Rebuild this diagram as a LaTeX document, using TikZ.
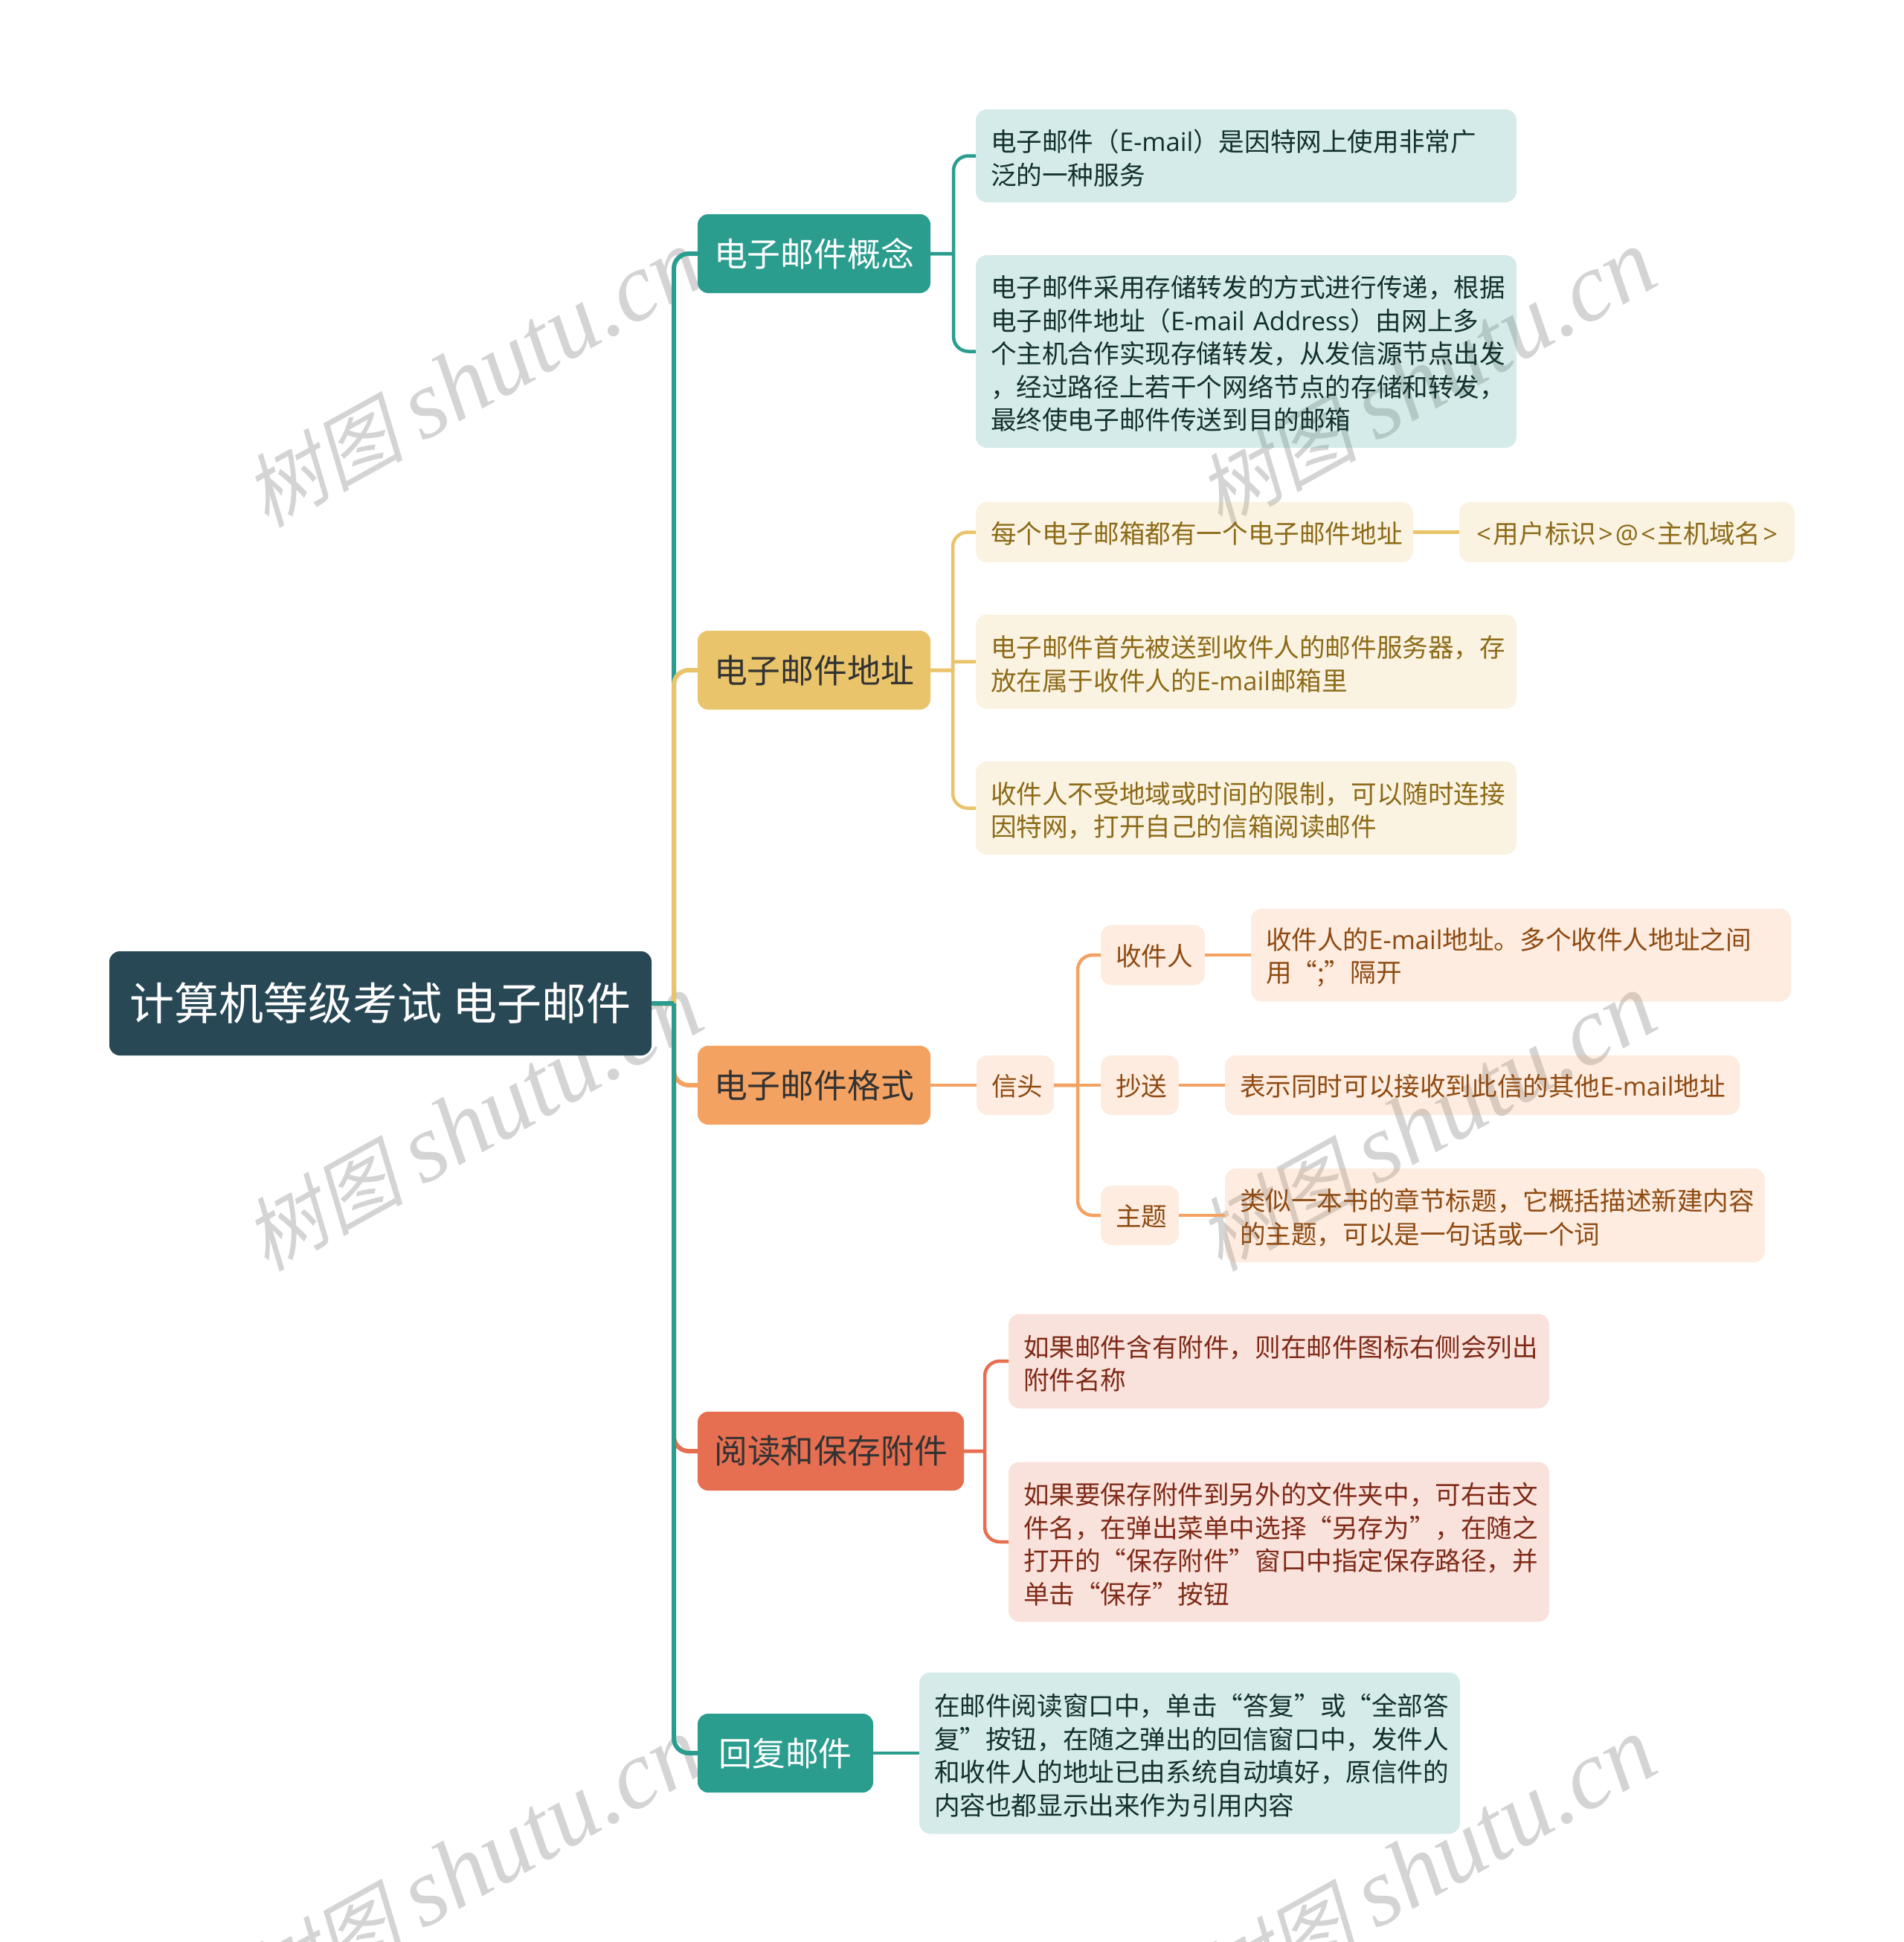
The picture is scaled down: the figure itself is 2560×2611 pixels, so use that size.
\documentclass[tikz,border=0pt]{standalone}
\usepackage{fontspec}
\setmainfont{Noto Sans CJK SC}
\newfontfamily\lafont{Open Sans}
\newfontfamily\markcjk[FakeSlant=0.22]{Noto Sans CJK SC}
\newfontfamily\marklatin{Liberation Serif}[ItalicFont=* Italic]
\newcommand{\la}[1]{\mbox{\lafont #1}}
\newcommand{\leafend}{\par\vspace{-6.5pt}}
\usepackage{tikz}
\usetikzlibrary{positioning}
\definecolor{rootblue}{HTML}{294856}
\definecolor{mailteal}{HTML}{2A9D8F}
\definecolor{mailyellow}{HTML}{E9C46A}
\definecolor{mailorange}{HTML}{F4A261}
\definecolor{mailred}{HTML}{E76F51}
\definecolor{inkteal}{HTML}{12302C}
\definecolor{inkyellow}{HTML}{8C6A18}
\definecolor{inkorange}{HTML}{8E4A12}
\definecolor{inkred}{HTML}{7E2A17}

\begin{document}
\begin{tikzpicture}[x=1pt,y=1pt,semithick]
    \tikzstyle{rootbox}=[fill=rootblue,text=white,rounded corners=14pt,outer sep=0pt,inner sep=0pt,minimum width=729pt,minimum height=140pt,font=\fontsize{60}{70}\selectfont]
    \tikzstyle{topic}=[rounded corners=14pt,outer sep=0pt,inner sep=0pt,minimum width=313pt,minimum height=106pt,font=\fontsize{44.8}{54}\selectfont]
    \tikzstyle{leaf}=[rounded corners=15pt,outer sep=0pt,inner xsep=20pt,inner ysep=0pt,text width=687pt,align=left,fill opacity=0.2,text opacity=1,font=\fontsize{34.6}{44.5}\selectfont,execute at end node=\leafend]
    \tikzstyle{wmark}=[text=black!17,rotate=29,inner sep=0pt]
    \tikzstyle{tealline}=[draw=mailteal]
    \tikzstyle{yellowline}=[draw=mailyellow]
    \tikzstyle{orangeline}=[draw=mailorange]
    \tikzstyle{redline}=[draw=mailred]
    \tikzstyle{trunk}=[line width=6pt]
    \tikzstyle{twig}=[line width=4.5pt]
    \tikzset{elbow/.style={rounded corners=20pt,to path={(\tikztostart) -- ++(#1,0) ++(0,0) |- (\tikztotarget)}}}
    \useasboundingbox (0,0) rectangle (2560,-2611);

    \foreach \mx in {636,1918}
        \foreach \my in {-510,-1510,-2510}
            \node[wmark] (w\mx\my) at (\mx,\my) {\fontsize{108}{120}\markcjk\selectfont 树图 \fontsize{131}{140}\marklatin\itshape\selectfont shutu.cn};

    \node[rootbox] (root) at (511.5,-1349) {计算机等级考试 电子邮件};

    \node[topic,fill=mailteal,text=white] (concept) [right=62pt of root,yshift=1008pt] {电子邮件概念};
    \node[topic,fill=mailyellow,text=black!80] (address) [right=62pt of root,yshift=448pt] {电子邮件地址};
    \node[topic,fill=mailorange,text=black!80] (format) [right=62pt of root,yshift=-110pt] {电子邮件格式};
    \node[topic,fill=mailred,text=black!80,minimum width=358pt] (attach) [right=62pt of root,yshift=-602pt] {阅读和保存附件};
    \node[topic,fill=mailteal,text=white,minimum width=236pt] (reply) [right=62pt of root,yshift=-1008pt] {回复邮件\hspace{5pt}};

    \node[leaf,fill=mailteal,text=inkteal,minimum height=125pt] (concepta) [right=61pt of concept,yshift=131.5pt] {电子邮件（\la{E-mail}）是因特网上使用非常广\\泛的一种服务};
    \node[leaf,fill=mailteal,text=inkteal,minimum height=259pt] (conceptb) [right=61pt of concept,yshift=-131.5pt] {电子邮件采用存储转发的方式进行传递，根据\\电子邮件地址（\la{E-mail Address}）由网上多\\个主机合作实现存储转发，从发信源节点出发\\，经过路径上若干个网络节点的存储和转发，\\最终使电子邮件传送到目的邮箱};

    \node[leaf,fill=mailyellow,text=inkyellow,text width=548pt,minimum height=81pt] (addressa) [right=61pt of address,yshift=185.5pt] {每个电子邮箱都有一个电子邮件地址};
    \node[leaf,fill=mailyellow,text=inkyellow,text width=411pt,minimum height=81pt] (userhost) [right=62pt of addressa] {\mbox{\hspace*{3pt}\la{<}\hspace{3pt}用户标识\hspace{3pt}\la{>}\hspace{3pt}\la{@}\hspace{3pt}\la{<}\hspace{3pt}主机域名\hspace{3pt}\la{>}}};
    \node[leaf,fill=mailyellow,text=inkyellow,minimum height=127pt] (addressb) [right=61pt of address,yshift=11.5pt] {电子邮件首先被送到收件人的邮件服务器，存\\放在属于收件人的\la{E-mail}邮箱里};
    \node[leaf,fill=mailyellow,text=inkyellow,minimum height=125pt] (addressc) [right=61pt of address,yshift=-185.5pt] {收件人不受地域或时间的限制，可以随时连接\\因特网，打开自己的信箱阅读邮件};

    \node[leaf,fill=mailorange,text=inkorange,text width=64pt,minimum height=80pt] (header) [right=62pt of format] {信头};
    \node[leaf,fill=mailorange,text=inkorange,text width=100pt,minimum height=81pt] (receiver) [right=63pt of header,yshift=175pt] {收件人};
    \node[leaf,fill=mailorange,text=inkorange,text width=65pt,minimum height=80pt] (copyto) [right=63pt of header] {抄送};
    \node[leaf,fill=mailorange,text=inkorange,text width=65pt,minimum height=80pt] (subject) [right=63pt of header,yshift=-175pt] {主题};
    \node[leaf,fill=mailorange,text=inkorange,text width=686pt,minimum height=125pt] (receivernote) [right=62pt of receiver] {收件人的\la{E-mail}地址。多个收件人地址之间\\用“;”隔开};
    \node[leaf,fill=mailorange,text=inkorange,text width=652pt,minimum height=80pt] (copynote) [right=62pt of copyto] {表示同时可以接收到此信的其他\la{E-mail}地址};
    \node[leaf,fill=mailorange,text=inkorange,text width=686pt,minimum height=126pt] (subjectnote) [right=62pt of subject] {类似一本书的章节标题，它概括描述新建内容\\的主题，可以是一句话或一个词};

    \node[leaf,fill=mailred,text=inkred,minimum height=127pt] (attacha) [right=60pt of attach,yshift=121pt] {如果邮件含有附件，则在邮件图标右侧会列出\\附件名称};
    \node[leaf,fill=mailred,text=inkred,minimum height=215pt] (attachb) [right=60pt of attach,yshift=-122pt] {如果要保存附件到另外的文件夹中，可右击文\\件名，在弹出菜单中选择“另存为”，在随之\\打开的“保存附件”窗口中指定保存路径，并\\单击“保存”按钮};

    \node[leaf,fill=mailteal,text=inkteal,minimum height=217pt] (replya) [right=62pt of reply] {在邮件阅读窗口中，单击“答复”或“全部答\\复”按钮，在随之弹出的回信窗口中，发件人\\和收件人的地址已由系统自动填好，原信件的\\内容也都显示出来作为引用内容};

    \path
        (root.east) edge[trunk,tealline,elbow=30] (concept.west)
        (root.east) edge[trunk,yellowline,elbow=30] (address.west)
        (root.east) edge[trunk,orangeline,elbow=30] (format.west)
        (root.east) edge[trunk,redline,elbow=30] (attach.west)
        (root.east) edge[trunk,tealline,elbow=30] (reply.west);
    \path
        (concept.east) edge[twig,tealline,elbow=31] (concepta.west) edge[twig,tealline,elbow=31] (conceptb.west)
        (address.east) edge[twig,yellowline,elbow=30] (addressa.west) edge[twig,yellowline,elbow=30,rounded corners=1pt] (addressb.west) edge[twig,yellowline,elbow=30] (addressc.west)
        (addressa.east) edge[twig,yellowline] (userhost.west)
        (format.east) edge[twig,orangeline] (header.west)
        (header.east) edge[twig,orangeline,elbow=32] (receiver.west) edge[twig,orangeline] (copyto.west) edge[twig,orangeline,elbow=32] (subject.west)
        (receiver.east) edge[twig,orangeline] (receivernote.west)
        (copyto.east) edge[twig,orangeline] (copynote.west)
        (subject.east) edge[twig,orangeline] (subjectnote.west)
        (attach.east) edge[twig,redline,elbow=28] (attacha.west) edge[twig,redline,elbow=28] (attachb.west)
        (reply.east) edge[twig,tealline] (replya.west);
\end{tikzpicture}
\end{document}
